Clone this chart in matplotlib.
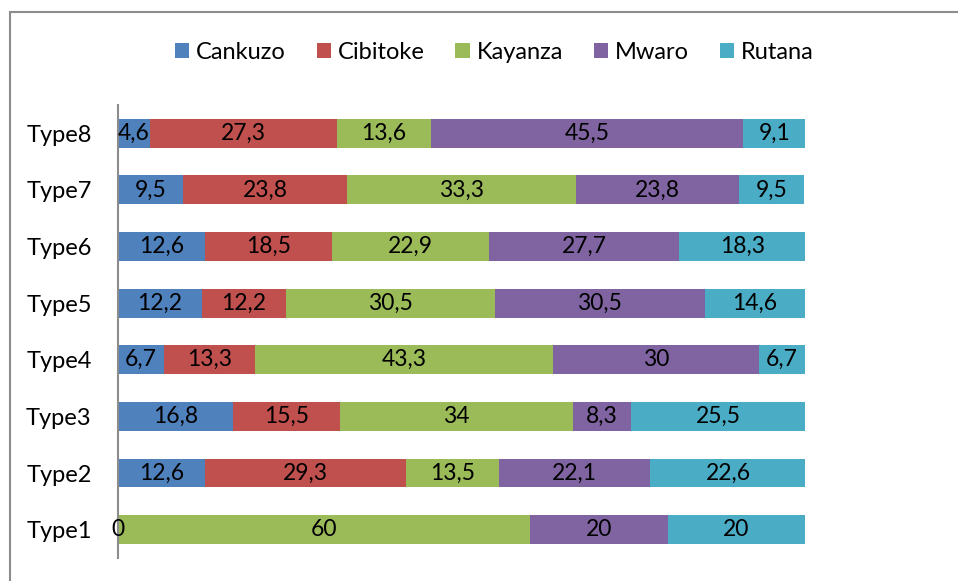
import matplotlib.pyplot as plt
from matplotlib.patches import Rectangle

types = ["Type1", "Type2", "Type3", "Type4", "Type5", "Type6", "Type7", "Type8"]
cankuzo = [0, 12.6, 16.8, 6.7, 12.2, 12.6, 9.5, 4.6]
cibitoke = [0, 29.3, 15.5, 13.3, 12.2, 18.5, 23.8, 27.3]
kayanza = [60, 13.5, 34, 43.3, 30.5, 22.9, 33.3, 13.6]
mwaro = [20, 22.1, 8.3, 30, 30.5, 27.7, 23.8, 45.5]
rutana = [20, 22.6, 25.5, 6.7, 14.6, 18.3, 9.5, 9.1]

series = [
    ("Cankuzo", cankuzo, "#4F81BD"),
    ("Cibitoke", cibitoke, "#C0504D"),
    ("Kayanza", kayanza, "#9BBB59"),
    ("Mwaro", mwaro, "#8064A2"),
    ("Rutana", rutana, "#4BACC6"),
]

plt.rcParams["font.family"] = ["Lato", "DejaVu Sans"]

fig = plt.figure(figsize=(9.58, 5.81), dpi=100)
ax = fig.add_axes([0.1232, 0.0396, 0.7171, 0.7797])

# outer chart frame
fig.patches.append(Rectangle((10 / 958, -0.05), 1.1, 1 - 12 / 581 + 0.05,
                             transform=fig.transFigure, fill=False,
                             edgecolor="#8c8c8c", linewidth=1.5))

y = list(range(len(types)))
left = [0] * len(types)
for name, vals, color in series:
    ax.barh(y, vals, left=left, height=0.51, color=color, label=name,
            edgecolor="none")
    for i, v in enumerate(vals):
        if name == "Cibitoke" and v == 0:
            continue
        txt = f"{v:g}".replace(".", ",")
        ax.text(left[i] + v / 2, i, txt, ha="center", va="center",
                fontsize=16.5, color="black")
    left = [l + v for l, v in zip(left, vals)]

ax.set_xlim(0, 100)
ax.set_ylim(-0.5, 7.5)
ax.set_yticks(y)
ax.set_yticklabels(types, fontsize=17)
ax.set_xticks([])
ax.tick_params(axis="y", length=0, pad=19)
for s in ["top", "right", "bottom"]:
    ax.spines[s].set_visible(False)
ax.spines["left"].set_color("#8c8c8c")
ax.spines["left"].set_linewidth(1.5)

fig.legend(loc="center", bbox_to_anchor=(0.516, 0.91), ncol=5, frameon=False,
           fontsize=17, handlelength=0.6, handleheight=0.6, handletextpad=0.3,
           columnspacing=1.3)

fig.savefig("out.png", dpi=100)
